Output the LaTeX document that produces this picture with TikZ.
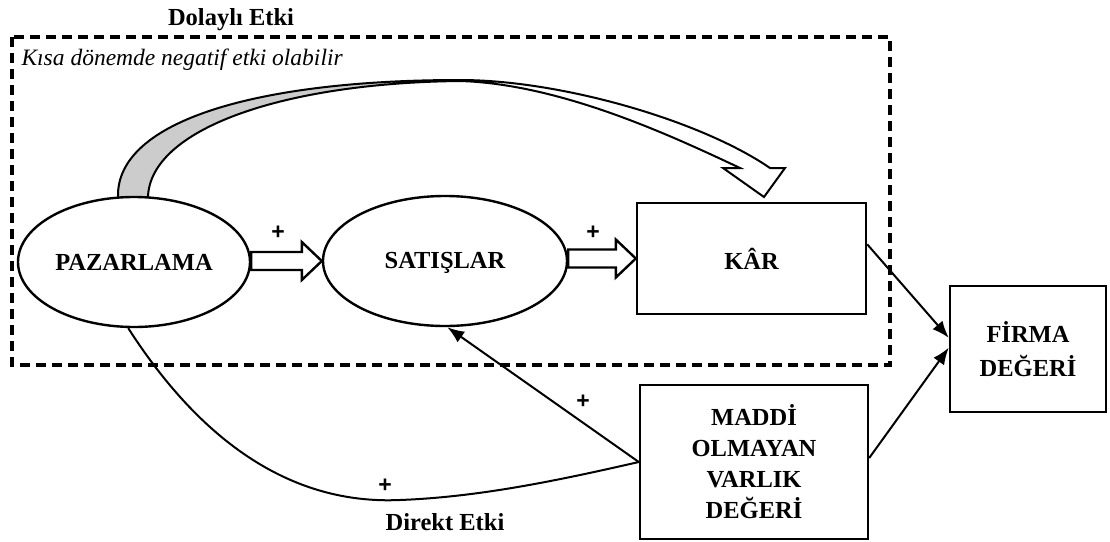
\documentclass[tikz,border=0pt]{standalone}
\usepackage{fontspec}
\setmainfont{Liberation Serif}
\newfontfamily\plusfont{Liberation Sans}
\usetikzlibrary{shapes.geometric,arrows.meta,calc}

% hollow block arrow from the tail anchor #1 to the tip anchor #2
\newcommand\blockarr[2]{%
  \draw[hollow] ($(#1 |- #2)+(0,-9)$) -- ($(#2)+(-20,-9)$) -- ($(#2)+(-20,-19)$)
    -- (#2) -- ($(#2)+(-20,19)$) -- ($(#2)+(-20,9)$) -- ($(#1 |- #2)+(0,9)$) -- cycle;}

\begin{document}
\begin{tikzpicture}[x=1pt,y=-1pt,
  lbl/.style={font=\fontsize{24.5}{31}\selectfont\bfseries, align=center},
  oval/.style={ellipse, draw, line width=2.4pt, fill=white, inner sep=0pt, lbl},
  box/.style={rectangle, draw, line width=2.4pt, fill=white, inner sep=0pt, lbl},
  link/.style={line width=2pt, -{Latex[length=17pt,width=13pt]}},
  plain/.style={line width=2pt},
  hollow/.style={line width=2.4pt, fill=white, line join=miter},
  ribbon/.style={line width=2pt, line join=miter},
  plus/.style={font=\plusfont\fontsize{23}{23}\selectfont\bfseries},
  title/.style={font=\fontsize{24.5}{25}\selectfont\bfseries},
  frame/.style={line width=3.4pt, dash pattern=on 10pt off 6pt}]

\useasboundingbox (0,0) rectangle (1110,541);

% indirect-effect region
\draw[frame] (12,37) rectangle (890,365);
\node[title] (dolayli) at (231,20) {Dolaylı Etki};
\node[font=\fontsize{23.5}{24}\selectfont\itshape, anchor=west] (kisa) at (18,60)
  {Kısa dönemde negatif etki olabilir};

% curved ribbon arrow over the top
\fill[black!20] (118,197) .. controls (116,120) and (260,80) .. (460,80)
  -- (460,81) .. controls (280,83) and (150,130) .. (148,197) -- cycle;
\fill[white] (460,80) .. controls (560,80) and (700,120) .. (770,168)
  -- (785,168) -- (764,197) -- (723,168) -- (740,168)
  .. controls (670,135) and (560,84) .. (460,81) -- cycle;
\draw[ribbon] (118,197) .. controls (116,120) and (260,80) .. (460,80)
  .. controls (560,80) and (700,120) .. (770,168)
  -- (785,168) -- (764,197) -- (723,168) -- (740,168)
  .. controls (670,135) and (560,84) .. (460,81)
  .. controls (280,83) and (150,130) .. (148,197);

% nodes
\node[oval, minimum width=232pt, minimum height=130pt] (paz) at (134,262) {PAZARLAMA};
\node[oval, minimum width=244pt, minimum height=130pt] (sat) at (445,261) {SATI\smash{Ş}LAR};
\node[box, minimum width=229pt, minimum height=111pt] (kar) at (751.5,258.5) {KÂR};
\node[box, minimum width=156pt, minimum height=126pt, font=\fontsize{24.5}{34}\selectfont\bfseries]
  (firma) at (1028,349) {FİRMA\\DEĞERİ};
\node[box, minimum width=228pt, minimum height=154pt] (maddi) at (754,462)
  {MADDİ\\OLMAYAN\\VARLIK\\DEĞERİ};

% block arrows
\blockarr{paz.east}{sat.west}
\blockarr{sat.east}{kar.west}
\node[plus] (p1) at (278,233) {+};
\node[plus] (p2) at (593,233) {+};

% connectors
\draw[link] (maddi.west) -- (sat.-88);
\node[plus] (p3) at (583,402) {+};
\draw[plain] (paz.-95) .. controls (200,440) and (290,505) .. (400,500)
  .. controls (480,497) and (560,480) .. (maddi.west);
\node[plus] (p4) at (385,486) {+};
\node[title] (direkt) at (445,522) {Direkt Etki};
\draw[link] (kar.7) -- (firma.172);
\draw[link] (maddi.2) -- (firma.179);

\end{tikzpicture}
\end{document}
